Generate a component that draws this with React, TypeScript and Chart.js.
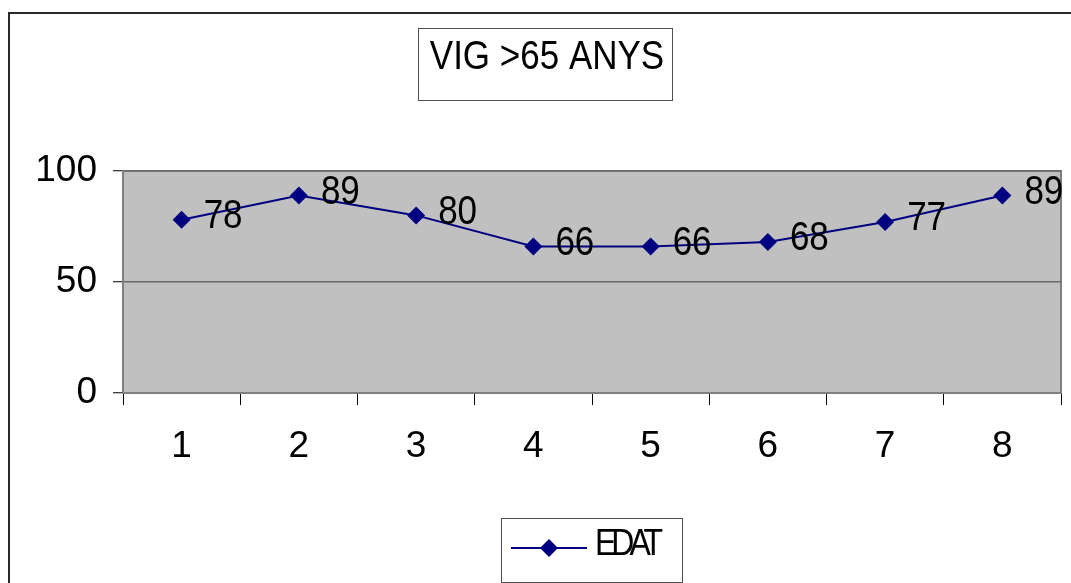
import React, { useEffect, useRef } from "react";
import { Chart, registerables } from "chart.js";

Chart.register(...registerables);

const categories = ["1", "2", "3", "4", "5", "6", "7", "8"];
const edatValues = [78, 89, 80, 66, 66, 68, 77, 89];
const seriesName = "EDAT";
const chartTitle = "VIG >65 ANYS";
const yTicks = [0, 50, 100];

const FONT = "'Liberation Sans', Arial, sans-serif";
const NAVY = "#000080";
const STRETCH = 1.18;

function stretchedText(ctx: any, text: string, x: number, y: number) {
  ctx.save();
  ctx.translate(x, y);
  ctx.scale(1, STRETCH);
  ctx.fillText(text, 0, 0);
  ctx.restore();
}

const decorPlugin = {
  id: "decor",
  beforeDraw(chart: any) {
    const ctx = chart.ctx;
    const { left, top, right, bottom } = chart.chartArea;
    ctx.save();
    ctx.fillStyle = "#ffffff";
    ctx.fillRect(0, 0, chart.width, chart.height);
    ctx.strokeStyle = "#2a2a2a";
    ctx.lineWidth = 2;
    ctx.beginPath();
    ctx.moveTo(9, chart.height + 2);
    ctx.lineTo(9, 13);
    ctx.lineTo(chart.width + 2, 13);
    ctx.stroke();
    ctx.fillStyle = "#c0c0c0";
    ctx.fillRect(left, top, right - left, bottom - top);
    ctx.strokeStyle = "#808080";
    ctx.lineWidth = 2;
    ctx.strokeRect(left, top, right - left, bottom - top);
    ctx.restore();
  },
  afterDatasetsDraw(chart: any) {
    const ctx = chart.ctx;
    const meta = chart.getDatasetMeta(0);
    ctx.save();
    ctx.fillStyle = "#000000";
    ctx.font = `35px ${FONT}`;
    ctx.textAlign = "left";
    ctx.textBaseline = "middle";
    meta.data.forEach((pt: any, i: number) => {
      stretchedText(ctx, String(edatValues[i]), pt.x + 22, pt.y - 3);
    });
    ctx.restore();
  },
  afterDraw(chart: any) {
    const ctx = chart.ctx;
    ctx.save();
    ctx.fillStyle = "#ffffff";
    ctx.fillRect(418, 28, 254, 72);
    ctx.strokeStyle = "#505050";
    ctx.lineWidth = 1;
    ctx.strokeRect(418.5, 28.5, 254, 72);
    ctx.fillStyle = "#000000";
    ctx.font = `35px ${FONT}`;
    ctx.textAlign = "center";
    ctx.textBaseline = "middle";
    stretchedText(ctx, chartTitle, 547, 58);
    ctx.fillStyle = "#ffffff";
    ctx.fillRect(501, 518, 181, 64);
    ctx.strokeRect(501.5, 518.5, 181, 64);
    ctx.strokeStyle = NAVY;
    ctx.lineWidth = 2;
    ctx.beginPath();
    ctx.moveTo(511, 548);
    ctx.lineTo(587, 548);
    ctx.stroke();
    ctx.fillStyle = NAVY;
    ctx.beginPath();
    ctx.moveTo(549 - 9, 548);
    ctx.lineTo(549, 548 - 9);
    ctx.lineTo(549 + 9, 548);
    ctx.lineTo(549, 548 + 9);
    ctx.closePath();
    ctx.fill();
    ctx.fillStyle = "#000000";
    ctx.font = `32px ${FONT}`;
    (ctx as any).letterSpacing = "-5px";
    ctx.textAlign = "left";
    ctx.textBaseline = "middle";
    stretchedText(ctx, seriesName, 595, 545);
    ctx.restore();
  },
};

export default function App() {
  const canvasRef = useRef<HTMLCanvasElement | null>(null);

  useEffect(() => {
    const canvas = canvasRef.current;
    if (!canvas) return;
    const chart = new Chart(canvas, {
      type: "line",
      data: {
        labels: categories,
        datasets: [
          {
            label: seriesName,
            data: edatValues,
            borderColor: NAVY,
            backgroundColor: NAVY,
            borderWidth: 2,
            pointStyle: "rectRot",
            pointRadius: 9,
            pointBorderWidth: 0,
            pointBackgroundColor: NAVY,
            tension: 0,
          },
        ],
      },
      options: {
        responsive: false,
        animation: false,
        layout: { padding: { top: 171, right: 10, left: 0, bottom: 0 } },
        plugins: {
          legend: { display: false },
          title: { display: false },
          tooltip: { enabled: false },
        },
        scales: {
          x: {
            offset: true,
            afterFit(scale: any) {
              scale.height = 190;
            },
            grid: {
              offset: true,
              drawOnChartArea: false,
              drawTicks: true,
              tickLength: 12,
              tickColor: "#000000",
              tickWidth: 1,
            },
            border: { display: true, color: "#808080", width: 2 },
            ticks: {
              color: "#000000",
              font: { family: FONT, size: 37 },
              padding: 20,
              maxRotation: 0,
            },
          },
          y: {
            min: 0,
            max: 100,
            afterFit(scale: any) {
              scale.width = 123;
            },
            afterBuildTicks(scale: any) {
              scale.ticks = yTicks.map((v) => ({ value: v }));
            },
            grid: {
              color: "#6a6a6a",
              lineWidth: 1.5,
              drawTicks: true,
              tickLength: 10,
              tickColor: "#000000",
              tickWidth: 1,
            },
            border: { display: true, color: "#808080", width: 2 },
            ticks: {
              color: "#000000",
              font: { family: FONT, size: 37 },
              padding: 16,
            },
          },
        },
      },
      plugins: [decorPlugin],
    });
    return () => chart.destroy();
  }, []);

  return (
    <div style={{ position: "fixed", left: 0, top: 0, width: 1071, height: 583, background: "#fff" }}>
      <canvas ref={canvasRef} width={1071} height={583} style={{ width: 1071, height: 583, display: "block" }} />
    </div>
  );
}
